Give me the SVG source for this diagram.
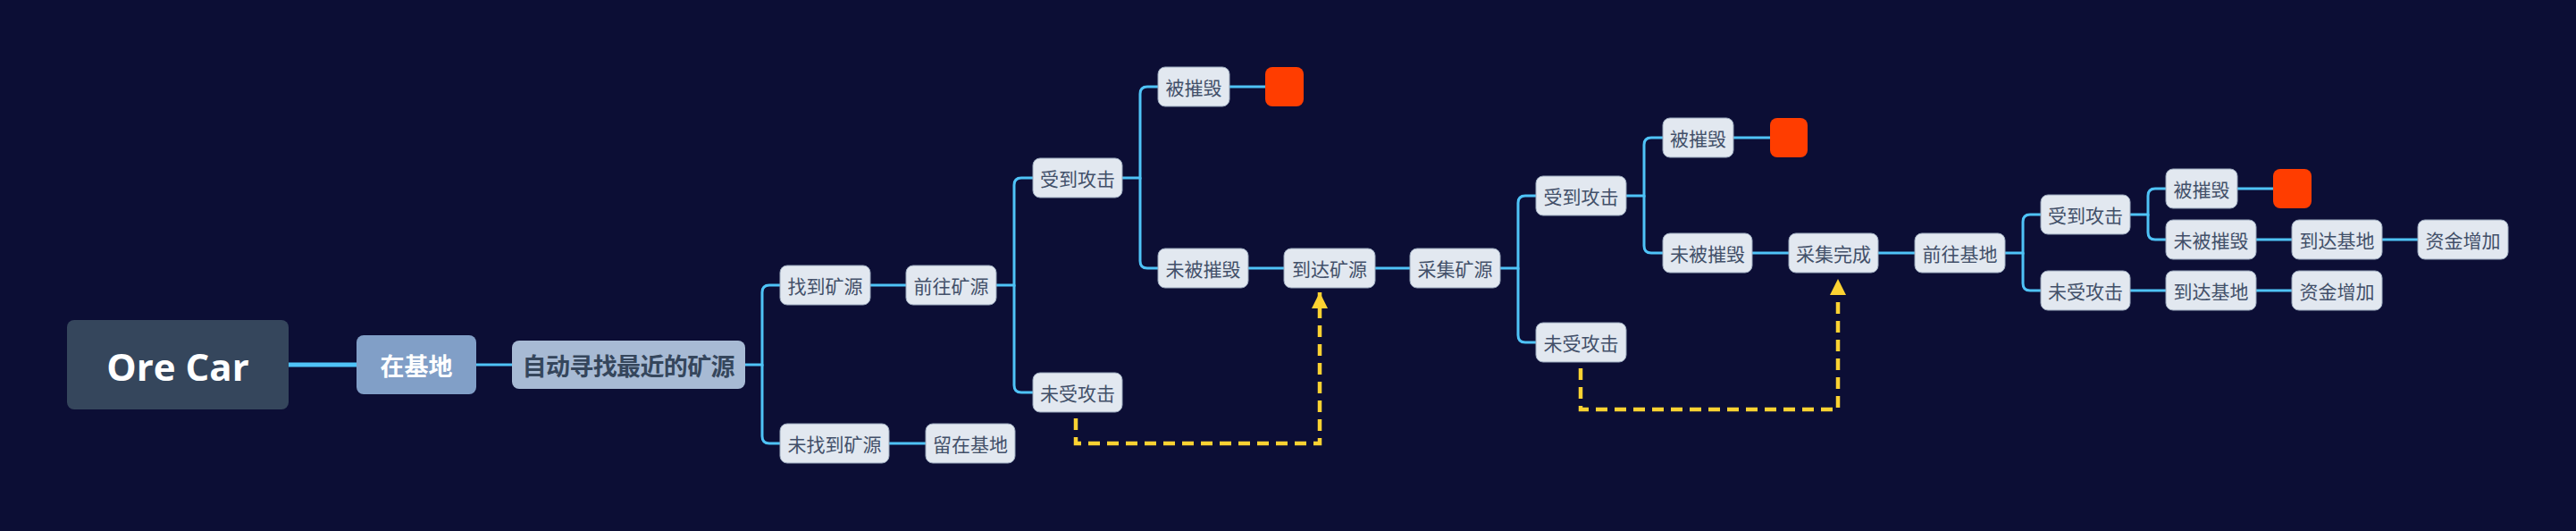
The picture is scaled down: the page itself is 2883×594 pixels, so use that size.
<svg xmlns="http://www.w3.org/2000/svg" width="2883" height="594" viewBox="0 0 2883 594">
<defs>
<style>
.bg{fill:#0C0E35}
.leaf rect{fill:#E2E8F0;stroke:#9AA8BC;stroke-width:1}
.leaf text{fill:#425069;font-family:"Noto Sans CJK SC","Noto Sans",sans-serif;font-size:21px;text-anchor:middle;dominant-baseline:central}
.red rect{fill:#FF3D00}
.conn path{fill:none;stroke:#4FC3F7;stroke-width:3;stroke-linecap:round}
.dash path{fill:none;stroke:#FCD232;stroke-width:4.5;stroke-dasharray:13 8}
</style>
<marker id="ah" viewBox="0 0 18 18" markerWidth="18" markerHeight="18" markerUnits="userSpaceOnUse" refX="18" refY="9" orient="auto">
<path d="M0,0 L18,9 L0,18 Z" fill="#FCD232"/>
</marker>
</defs>
<rect class="bg" x="0" y="0" width="2883" height="594"/>

<g id="connectors" class="conn">
<path d="M323,408 H399" style="stroke-width:5"/>
<path d="M533,408 H573"/>
<path d="M834,408 H853 V327 Q853,319 861,319 H873"/>
<path d="M853,408 V488 Q853,496 861,496 H873"/>
<path d="M974,319 H1014"/>
<path d="M995,496 H1036"/>
<path d="M1115,319 H1135 V207 Q1135,199 1143,199 H1156"/>
<path d="M1135,319 V431 Q1135,439 1143,439 H1156"/>
<path d="M1256,199 H1276 V105 Q1276,97 1284,97 H1296"/>
<path d="M1276,199 V292 Q1276,300 1284,300 H1296"/>
<path d="M1376,97 H1416"/>
<path d="M1397,300 H1437"/>
<path d="M1539,300 H1578"/>
<path d="M1679,300 H1699 V227 Q1699,219 1707,219 H1719"/>
<path d="M1699,300 V375 Q1699,383 1707,383 H1719"/>
<path d="M1820,219 H1840 V162 Q1840,154 1848,154 H1861"/>
<path d="M1840,219 V275 Q1840,283 1848,283 H1861"/>
<path d="M1940,154 H1981"/>
<path d="M1961,283 H2002"/>
<path d="M2102,283 H2143"/>
<path d="M2244,283 H2264 V248 Q2264,240 2272,240 H2284"/>
<path d="M2264,283 V317 Q2264,325 2272,325 H2284"/>
<path d="M2384,240 H2404 V219 Q2404,211 2412,211 H2424"/>
<path d="M2404,240 V260 Q2404,268 2412,268 H2424"/>
<path d="M2504,211 H2544"/>
<path d="M2525,268 H2565"/>
<path d="M2666,268 H2706"/>
<path d="M2384,325 H2424"/>
<path d="M2525,325 H2565"/>
</g>

<g id="dashed-links" class="dash">
<path d="M1204,468 V496 H1477 V327" marker-end="url(#ah)"/>
<path d="M1769,412 V458 H2057 V312" marker-end="url(#ah)"/>
</g>

<g id="root">
<rect x="75" y="358" width="248" height="100" rx="8" fill="#35465C"/>
<text x="199" y="409" fill="#FFFFFF" font-family="'Open Sans','Noto Sans',sans-serif" font-size="42" font-weight="bold" text-anchor="middle" dominant-baseline="central">Ore Car</text>
</g>
<g id="n-zaijidi">
<rect x="399" y="375" width="134" height="66" rx="8" fill="#819FC7"/>
<text x="466" y="408" fill="#FFFFFF" font-family="'Noto Sans CJK SC',sans-serif" font-size="27" font-weight="bold" text-anchor="middle" dominant-baseline="central">在基地</text>
</g>
<g id="n-zidong">
<rect x="573" y="381" width="261" height="54" rx="8" fill="#A7BAD4"/>
<text x="703.5" y="408" fill="#35465C" font-family="'Noto Sans CJK SC',sans-serif" font-size="27" font-weight="bold" text-anchor="middle" dominant-baseline="central" textLength="238" lengthAdjust="spacing">自动寻找最近的矿源</text>
</g>

<g id="n-zhaodao" class="leaf"><rect x="873" y="297" width="101" height="44" rx="8"/><text x="923.5" y="319">找到矿源</text></g>
<g id="n-weizhaodao" class="leaf"><rect x="873" y="474" width="122" height="44" rx="8"/><text x="934" y="496">未找到矿源</text></g>
<g id="n-liuzai" class="leaf"><rect x="1036" y="474" width="100" height="44" rx="8"/><text x="1086" y="496">留在基地</text></g>
<g id="n-qianwang1" class="leaf"><rect x="1014" y="297" width="101" height="44" rx="8"/><text x="1064.5" y="319">前往矿源</text></g>
<g id="n-shoudao1" class="leaf"><rect x="1156" y="177" width="100" height="44" rx="8"/><text x="1206" y="199">受到攻击</text></g>
<g id="n-weishou1" class="leaf"><rect x="1156" y="417" width="100" height="44" rx="8"/><text x="1206" y="439">未受攻击</text></g>
<g id="n-beicui1" class="leaf"><rect x="1296" y="75" width="80" height="44" rx="8"/><text x="1336" y="97">被摧毁</text></g>
<g id="n-red1" class="red"><rect x="1416" y="75" width="43" height="44" rx="8"/></g>
<g id="n-weibei1" class="leaf"><rect x="1296" y="278" width="101" height="44" rx="8"/><text x="1346.5" y="300">未被摧毁</text></g>
<g id="n-daoda1" class="leaf"><rect x="1437" y="278" width="102" height="44" rx="8"/><text x="1488" y="300">到达矿源</text></g>
<g id="n-caiji" class="leaf"><rect x="1578" y="278" width="101" height="44" rx="8"/><text x="1628.5" y="300">采集矿源</text></g>
<g id="n-shoudao2" class="leaf"><rect x="1719" y="197" width="101" height="44" rx="8"/><text x="1769.5" y="219">受到攻击</text></g>
<g id="n-weishou2" class="leaf"><rect x="1719" y="361" width="101" height="44" rx="8"/><text x="1769.5" y="383">未受攻击</text></g>
<g id="n-beicui2" class="leaf"><rect x="1861" y="132" width="79" height="44" rx="8"/><text x="1900.5" y="154">被摧毁</text></g>
<g id="n-red2" class="red"><rect x="1981" y="132" width="42" height="44" rx="8"/></g>
<g id="n-weibei2" class="leaf"><rect x="1861" y="261" width="100" height="44" rx="8"/><text x="1911" y="283">未被摧毁</text></g>
<g id="n-caijiwancheng" class="leaf"><rect x="2002" y="261" width="100" height="44" rx="8"/><text x="2052" y="283">采集完成</text></g>
<g id="n-qianwang2" class="leaf"><rect x="2143" y="261" width="101" height="44" rx="8"/><text x="2193.5" y="283">前往基地</text></g>
<g id="n-shoudao3" class="leaf"><rect x="2284" y="218" width="100" height="44" rx="8"/><text x="2334" y="240">受到攻击</text></g>
<g id="n-weishou3" class="leaf"><rect x="2284" y="303" width="100" height="44" rx="8"/><text x="2334" y="325">未受攻击</text></g>
<g id="n-beicui3" class="leaf"><rect x="2424" y="189" width="80" height="44" rx="8"/><text x="2464" y="211">被摧毁</text></g>
<g id="n-red3" class="red"><rect x="2544" y="189" width="43" height="44" rx="8"/></g>
<g id="n-weibei3" class="leaf"><rect x="2424" y="246" width="101" height="44" rx="8"/><text x="2474.5" y="268">未被摧毁</text></g>
<g id="n-daodajidi1" class="leaf"><rect x="2565" y="246" width="101" height="44" rx="8"/><text x="2615.5" y="268">到达基地</text></g>
<g id="n-zijin1" class="leaf"><rect x="2706" y="246" width="101" height="44" rx="8"/><text x="2756.5" y="268">资金增加</text></g>
<g id="n-daodajidi2" class="leaf"><rect x="2424" y="303" width="101" height="44" rx="8"/><text x="2474.5" y="325">到达基地</text></g>
<g id="n-zijin2" class="leaf"><rect x="2565" y="303" width="101" height="44" rx="8"/><text x="2615.5" y="325">资金增加</text></g>
</svg>
